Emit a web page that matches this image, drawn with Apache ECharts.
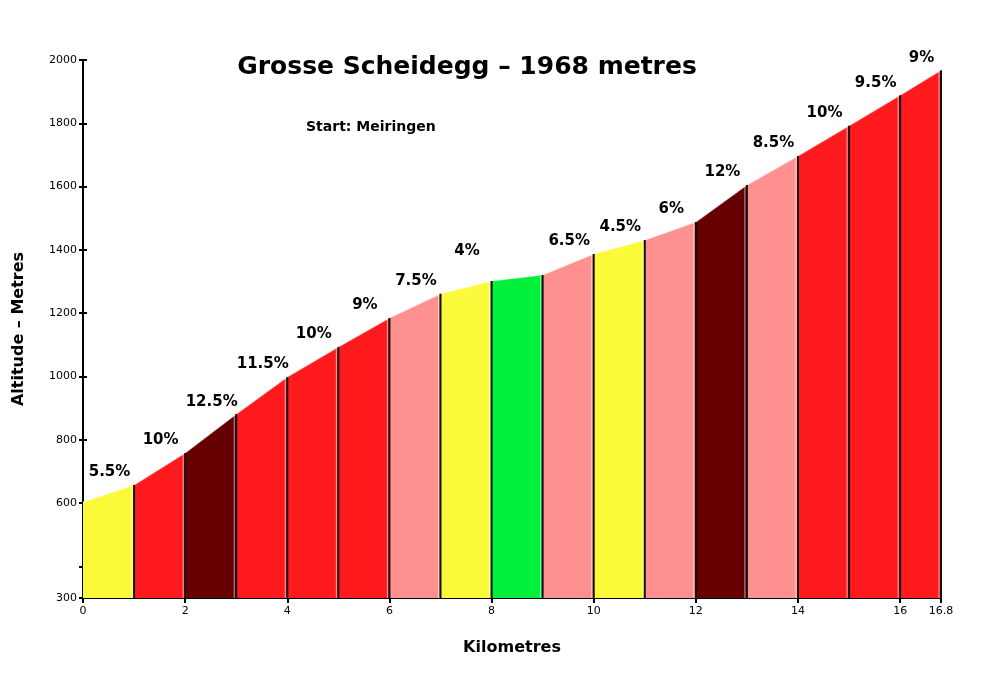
<!DOCTYPE html>
<html>
<head>
<meta charset="utf-8">
<script src="https://cdn.jsdelivr.net/npm/echarts@6/dist/echarts.min.js"></script>
<style>
  html, body { margin: 0; padding: 0; background: #fff; }
  #chart { width: 1001px; height: 678px; }
</style>
</head>
<body>
<div id="chart"></div>
<script>
// km markers and altitude (m)
const km = [0, 1, 2, 3, 4, 5, 6, 7, 8, 9, 10, 11, 12, 13, 14, 15, 16, 16.8]
const altitude = [603, 657, 758, 881, 998, 1093, 1185, 1261, 1302, 1321, 1387, 1431, 1488, 1605, 1697, 1792, 1889, 1968]
// one gradient label and colour class per km segment
const gradients = ['5.5%', '10%', '12.5%', '11.5%', '10%', '9%', '7.5%', '4%', '', '6.5%', '4.5%', '6%', '12%', '8.5%', '10%', '9.5%', '9%']
const classes = ['easy', 'hard', 'steep', 'hard', 'hard', 'hard', 'medium', 'easy', 'flat', 'medium', 'easy', 'medium', 'steep', 'medium', 'hard', 'hard', 'hard']
const yTicks = [300, 400, 600, 800, 1000, 1200, 1400, 1600, 1800, 2000]
const yLabels = [300, 600, 800, 1000, 1200, 1400, 1600, 1800, 2000]
const xTicks = [0, 2, 4, 6, 8, 10, 12, 14, 16, 16.8]

const palette = {
  flat: '#00f03c',
  easy: '#fafa3a',
  medium: '#ff9090',
  hard: '#ff1a1e',
  steep: '#660000'
}
const BASE = 300
const FONT = 'DejaVu Sans'

const segments = gradients.map((g, i) => [km[i], km[i + 1], altitude[i], altitude[i + 1], i])

function renderSegment(params, api) {
  const x0 = api.value(0), x1 = api.value(1)
  const y0 = api.value(2), y1 = api.value(3)
  const i = api.value(4)
  const bl = api.coord([x0, BASE])
  const tl = api.coord([x0, y0])
  const tr = api.coord([x1, y1])
  const br = api.coord([x1, BASE])
  let lift = 5
  if (gradients[i] === '4%') lift = 22
  return {
    type: 'group',
    children: [
      {
        type: 'polygon',
        z2: 0,
        shape: {points: [bl, tl, tr, br]},
        style: {fill: palette[classes[i]]}
      },
      {
        type: 'line',
        z2: 5,
        shape: {x1: tl[0], y1: tl[1], x2: tr[0], y2: tr[1]},
        style: {stroke: 'rgba(255,255,255,0.5)', lineWidth: 1.2}
      },
      {
        type: 'line',
        z2: 6,
        shape: {x1: br[0] - 2, y1: tr[1] + 1, x2: br[0] - 2, y2: br[1]},
        style: {stroke: 'rgba(255,255,255,0.6)', lineWidth: 1}
      },
      {
        type: 'line',
        z2: 10,
        shape: {x1: br[0], y1: tr[1], x2: br[0], y2: br[1]},
        style: {stroke: '#111', lineWidth: 2}
      },
      {
        type: 'text',
        z2: 10,
        x: (tl[0] + tr[0]) / 2 + 1,
        y: tr[1] - lift,
        style: {
          text: gradients[i],
          fill: '#000',
          font: 'bold 15px "' + FONT + '"',
          align: 'center',
          verticalAlign: 'bottom'
        }
      }
    ]
  }
}

const chart = echarts.init(document.getElementById('chart'), null, {renderer: 'canvas'})

chart.setOption({
  animation: false,
  backgroundColor: '#fff',
  textStyle: {fontFamily: FONT},
  grid: {left: 83, right: 60, top: 60, bottom: 80},
  graphic: [
    {
      type: 'text',
      x: 467,
      y: 67,
      style: {
        text: 'Grosse Scheidegg \u2013 1968 metres',
        font: 'bold 25px "' + FONT + '"',
        fill: '#000',
        align: 'center',
        verticalAlign: 'middle'
      }
    },
    {
      type: 'text',
      left: 306,
      top: 120,
      style: {
        text: 'Start: Meiringen',
        font: 'bold 14px "' + FONT + '"',
        fill: '#000'
      }
    }
  ],
  xAxis: {
    type: 'value',
    min: 0,
    max: 16.8,
    name: 'Kilometres',
    nameLocation: 'middle',
    nameGap: 42,
    nameTextStyle: {fontFamily: FONT, fontWeight: 'bold', fontSize: 16, color: '#000'},
    axisLine: {show: true, lineStyle: {color: '#000', width: 2}},
    axisTick: {show: true, length: 5, lineStyle: {color: '#000', width: 2}, customValues: xTicks},
    axisLabel: {color: '#000', fontSize: 11, margin: 8, customValues: xTicks,
      formatter: v => String(v)},
    splitLine: {show: false}
  },
  yAxis: [{
    type: 'value',
    min: 300,
    max: 2000,
    name: 'Altitude \u2013 Metres',
    nameLocation: 'middle',
    nameGap: 56,
    nameTextStyle: {fontFamily: FONT, fontWeight: 'bold', fontSize: 16, color: '#000'},
    axisLine: {show: true, lineStyle: {color: '#000', width: 2}},
    axisTick: {show: true, length: 4, lineStyle: {color: '#000', width: 2}, customValues: yTicks},
    axisLabel: {color: '#000', fontSize: 11, margin: 6, customValues: yLabels,
      formatter: v => String(v)},
    splitLine: {show: false}
  }, {
    type: 'value',
    min: 300,
    max: 2000,
    position: 'left',
    axisLine: {show: false},
    axisTick: {show: true, inside: true, length: 4, lineStyle: {color: '#000', width: 2}, customValues: yTicks},
    axisLabel: {show: false},
    splitLine: {show: false}
  }],
  series: [{
    type: 'custom',
    renderItem: renderSegment,
    data: segments,
    encode: {x: [0, 1], y: [2, 3]},
    clip: false,
    z: 1
  }]
})
</script>
</body>
</html>
